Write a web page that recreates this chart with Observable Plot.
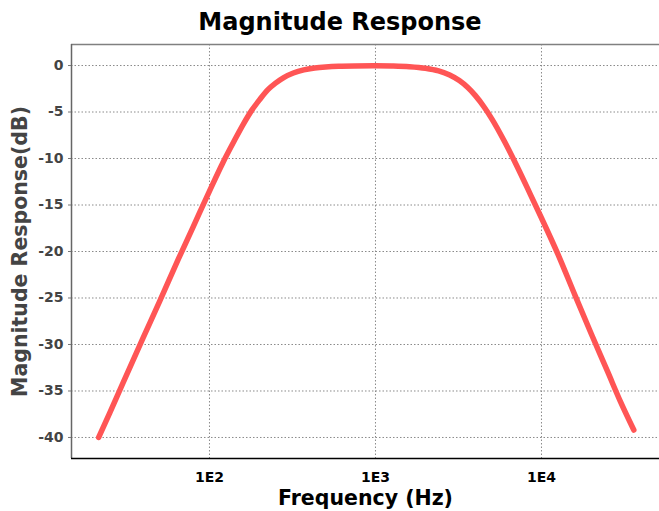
<!DOCTYPE html>
<html>
<head>
<meta charset="utf-8">
<script src="https://cdn.jsdelivr.net/npm/d3@7"></script>
<script src="https://cdn.jsdelivr.net/npm/@observablehq/plot@0.6"></script>
<style>
  body { margin: 0; background: #fff; font-family: "DejaVu Sans", sans-serif; }
  #wrap { position: relative; width: 659px; height: 511px; overflow: hidden; }
  #title { position: absolute; left: 340px; top: 0; transform: translateX(-50%); white-space: nowrap;
           font-weight: bold; font-size: 24px; line-height: 44px; color: #000; }
  #chart { position: absolute; left: 0; top: 44px; }
  #chart g[aria-label$="tick label"], #chart g[aria-label$="tick label"] text {
    font-size: 14px !important; font-weight: bold !important; font-family: "DejaVu Sans", sans-serif !important;
  }
</style>
</head>
<body>
<div id="wrap">
  <div id="title">Magnitude Response</div>
  <div id="chart"></div>
</div>
<script>
// Frequency (Hz) and magnitude (dB)
const freq = [21.5, 25, 30, 40, 50, 65, 80, 100, 120, 140, 160, 180, 200, 225, 250, 280, 320, 370, 430, 500, 600, 750, 1000, 1250, 1600, 2000, 2400, 2800, 3200, 3600, 4000, 4500, 5000, 6000, 7000, 8500, 10000, 12500, 16000, 20000, 25000, 30000, 36000];
const magDb = [-40, -37.4, -34.2, -29.2, -25.4, -20.8, -17.3, -13.5, -10.5, -8.2, -6.3, -4.8, -3.7, -2.6, -1.9, -1.3, -0.81, -0.47, -0.27, -0.15, -0.07, -0.04, -0.03, -0.05, -0.12, -0.29, -0.58, -1.02, -1.62, -2.37, -3.24, -4.43, -5.68, -8.2, -10.56, -13.72, -16.4, -20.2, -24.8, -28.9, -32.9, -36.2, -39.2];

const xTicks = [100, 1000, 10000];
const xTickLabels = ["1E2", "1E3", "1E4"];
const yTicks = [0, -5, -10, -15, -20, -25, -30, -35, -40];
const xDomain = [14.75, 51400];
const yDomain = [-42.26, 2.26];

const data = freq.map((f, i) => ({f, db: magDb[i]}));

const gridStyle = {stroke: "#8a8a8a", strokeOpacity: 1, strokeWidth: 1, strokeDasharray: "1.5,2"};

const chart = Plot.plot({
  width: 659,
  height: 467,
  marginTop: 0,
  marginLeft: 71,
  marginRight: 0,
  marginBottom: 53,
  style: {fontFamily: "DejaVu Sans", fontWeight: "bold", fontSize: "14px", background: "white", overflow: "visible"},
  x: {type: "log", domain: xDomain},
  y: {domain: yDomain},
  marks: [
    Plot.gridX(xTicks, gridStyle),
    Plot.gridY(yTicks, gridStyle),
    Plot.ruleY([yDomain[1]], {stroke: "#808080", strokeWidth: 1.5}),
    Plot.ruleX([xDomain[0]], {stroke: "#666", strokeWidth: 1.5}),
    Plot.ruleY([yDomain[0]], {stroke: "#000", strokeWidth: 1.5}),
    Plot.axisY(yTicks, {tickSize: 3, tickPadding: 5, stroke: "#777", fill: "#444", label: null,
      tickFormat: d => String(d)}),
    Plot.axisX(xTicks, {tickSize: 0, tickPadding: 14, fill: "#000", label: null,
      tickFormat: d => xTickLabels[xTicks.indexOf(d)]}),
    Plot.line(data, {x: "f", y: "db", stroke: "#ff5555", strokeWidth: 5.5, strokeLinecap: "round", strokeLinejoin: "round", curve: "monotone-x"}),
    Plot.text(["Frequency (Hz)"], {text: d => d, frameAnchor: "bottom", lineAnchor: "middle", textAnchor: "middle", dy: 40, fontSize: 20.5, fontWeight: "bold", fill: "#000"}),
    Plot.text(["Magnitude Response(dB)"], {text: d => d, frameAnchor: "left", textAnchor: "middle", lineAnchor: "middle", dx: -51, rotate: -90, fontSize: 20.5, fontWeight: "bold", fill: "#444"})
  ]
});
document.getElementById("chart").appendChild(chart);
</script>
</body>
</html>
